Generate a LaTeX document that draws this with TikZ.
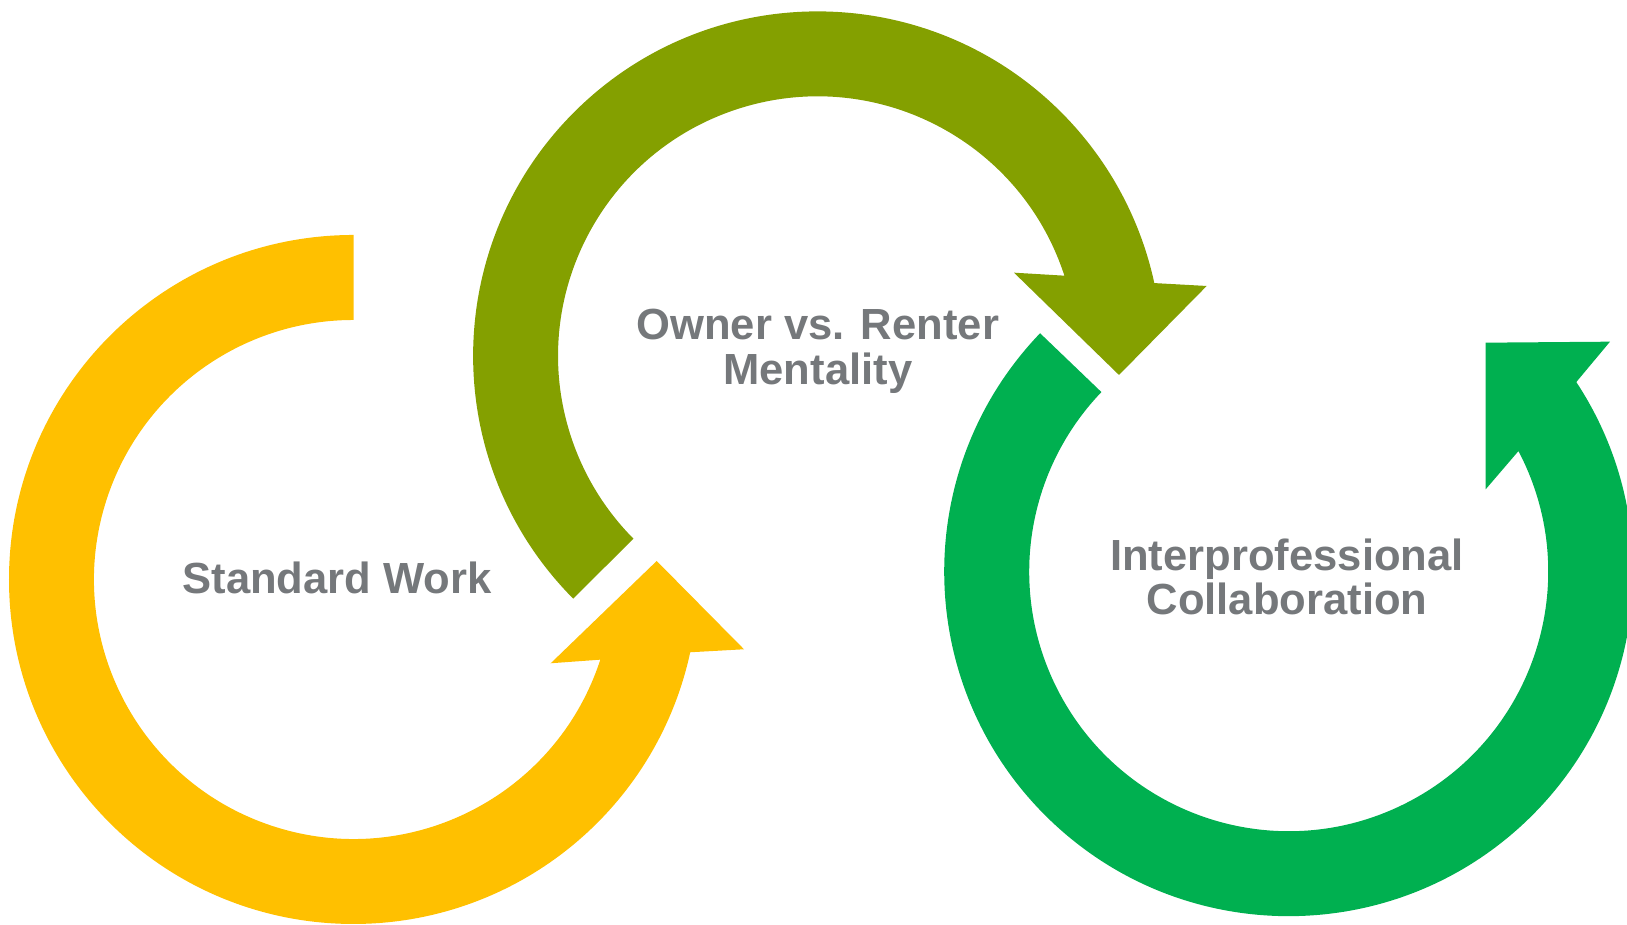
\documentclass[tikz,border=0pt]{standalone}
\usepackage{fontspec}
\setmainfont{Liberation Sans}
\usepackage{xcolor}
\definecolor{cycyellow}{HTML}{FFC000}
\definecolor{cycolive}{HTML}{84A000}
\definecolor{cycgreen}{HTML}{00B050}
\definecolor{textgray}{HTML}{75787B}

\begin{document}
\begin{tikzpicture}[
    looptext/.style={font=\bfseries\fontsize{12.4}{12.66}\selectfont,
                     text=textgray, align=center, anchor=base, inner sep=0pt}
    ]
    \clip (0,0) rectangle (16.27,9.25);

    % ring centres
    \coordinate (cy) at (3.535,3.455);
    \coordinate (co) at (8.176,5.691);
    \coordinate (cg) at (12.887,3.533);

    % yellow, counter-clockwise from the top
    \fill[cycyellow] ([shift={(90:3.445)}]cy) arc[start angle=90, end angle=347.8, radius=3.445]
        -- (7.44,2.757) -- (6.567,3.64) -- (5.507,2.617)
        -- ([shift={(342:2.595)}]cy) arc[start angle=342, end angle=90, radius=2.595] -- cycle;

    % olive, clockwise from lower left
    \fill[cycolive] ([shift={(224.8:3.445)}]co) arc[start angle=224.8, end angle=12.2, radius=3.445]
        -- (12.067,6.39) -- (11.19,5.50) -- (10.14,6.523)
        -- ([shift={(18:2.595)}]co) arc[start angle=18, end angle=224.8, radius=2.595] -- cycle;

    % green, counter-clockwise from upper left
    \fill[cycgreen] ([shift={(136.2:3.445)}]cg) arc[start angle=136.2, end angle=393.4, radius=3.445]
        -- (16.10,5.833) -- (14.857,5.823) -- (14.857,4.357)
        -- ([shift={(387.7:2.595)}]cg) arc[start angle=387.7, end angle=136.2, radius=2.595] -- cycle;

    % base anchor sits on the last line
    \node[looptext] (sw) at (3.37,3.317) {Standard Work};
    \node[looptext] (ovr) at (8.178,5.407) {Owner vs. Renter\\Mentality};
    \node[looptext] (ipc) at (12.87,3.10) {Interprofessional\\Collaboration};
\end{tikzpicture}
\end{document}
